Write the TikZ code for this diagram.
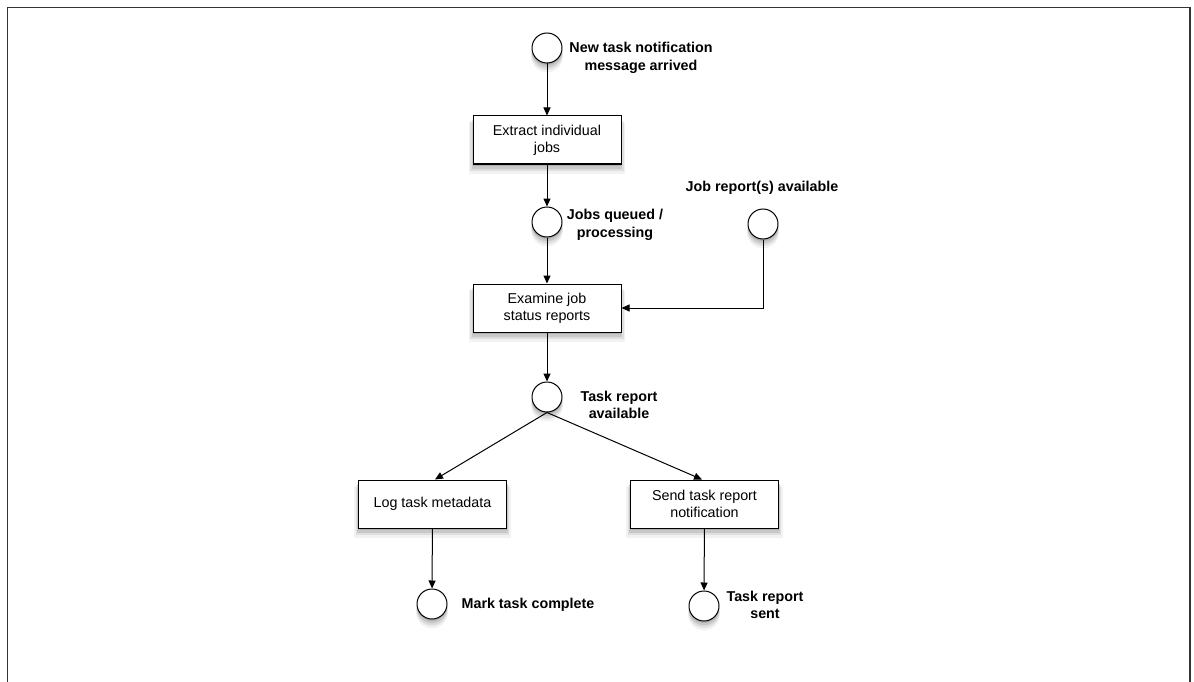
\documentclass[tikz,border=0pt]{standalone}
\usepackage{fontspec}
\setmainfont{Liberation Sans}
\usetikzlibrary{arrows.meta,shadows,calc}
\begin{document}
\begin{tikzpicture}[x=1pt,y=-1pt,
  softshadow/.style={
    drop shadow={shadow xshift=0pt,shadow yshift=-2pt,opacity=0.12,fill=black},
    drop shadow={shadow xshift=0pt,shadow yshift=-4pt,opacity=0.10,fill=black,shadow scale=1.02},
    drop shadow={shadow xshift=0pt,shadow yshift=-6pt,opacity=0.08,fill=black,shadow scale=1.04},
    drop shadow={shadow xshift=0pt,shadow yshift=-8pt,opacity=0.05,fill=black,shadow scale=1.06}},
  state/.style={circle,draw=black,line width=1pt,fill=white,minimum size=30pt,inner sep=0pt,softshadow},
  taskbox/.style={rectangle,draw=black,line width=1pt,fill=white,minimum width=148pt,minimum height=48pt,
    align=center,font=\fontsize{14.3}{17}\selectfont,inner sep=2pt,softshadow},
  lbl/.style={align=center,font=\bfseries\fontsize{14.3}{17.5}\selectfont,inner sep=0pt},
  flow/.style={line width=1pt,-{Triangle[length=8pt,width=7pt]}}]
\useasboundingbox (0,0) rectangle (1194,682);
\draw[line width=1.6pt,black!80] (7.5,700) -- (7.5,7.5) -- (1190,7.5) -- (1190,700);
% nodes
\node[state] (c1) at (547,48) {};
\node[lbl] (l1) at (641,58) {New task notification\\message arrived};
\node[taskbox] (b1) at (547,140) {Extract individual\\jobs};
\node[state] (c2) at (547,222) {};
\node[lbl] (l2) at (615,225) {Jobs queued /\\processing};
\node[state] (c3) at (763,224) {};
\node[lbl] (l3) at (762,188) {Job report(s) available};
\node[taskbox] (b2) at (547,308) {Examine job\\status reports};
\node[state] (c4) at (547,397) {};
\node[lbl] (l4) at (619,405) {Task report\\available};
\node[taskbox] (b3) at (432.5,504) {Log task metadata};
\node[taskbox] (b4) at (704.5,504) {Send task report\\notification};
\node[state] (c5) at (432,604) {};
\node[lbl] (l5) at (528,605) {Mark task complete};
\node[state] (c6) at (704,606) {};
\node[lbl] (l6) at (765,605) {Task report\\sent};
% connectors
\draw[flow] (c1) -- (b1);
\draw[flow] (b1) -- (c2);
\draw[flow] (c2) -- (b2);
\draw[flow] (c3.south) |- (b2.east);
\draw[flow] (b2) -- (c4);
\draw[flow] (c4.south) -- ($(b3.north)+(2.5,0)$);
\draw[flow] (c4.south) -- ($(b4.north)+(-2.5,0)$);
\draw[flow] (b3) -- (c5);
\draw[flow] (b4) -- (c6);
\end{tikzpicture}
\end{document}
